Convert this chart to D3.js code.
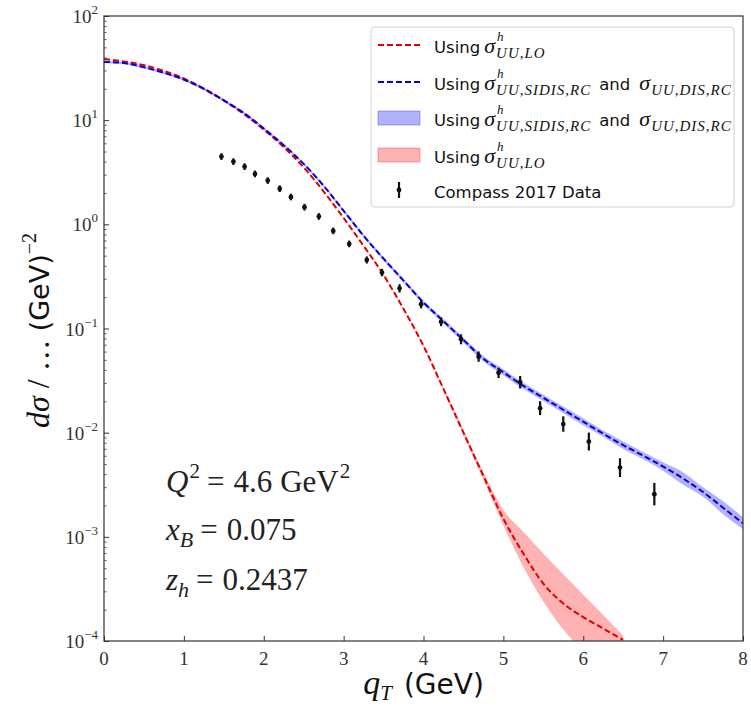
<!DOCTYPE html>
<html><head><meta charset="utf-8">
<script src="https://cdn.jsdelivr.net/npm/d3@7"></script>
<style>html,body{margin:0;padding:0;background:#fff;} text{white-space:pre;}</style>
</head><body>
<svg id="chart" width="751" height="707"></svg>
<script>
// ---- data ----
const gridBlue = [0,0.25,0.5,0.75,1,1.25,1.5,1.75,2,2.25,2.5,2.75,3,3.25,3.5,3.75,4,4.25,4.5,4.75,5,5.25,5.5,5.75,6,6.25,6.5,6.75,7,7.25,7.5,7.75,8];
const blueLog = [1.559,1.548,1.508,1.455,1.39,1.30,1.19,1.07,0.92,0.76,0.58,0.37,0.13,-0.11,-0.33,-0.54,-0.75,-0.93,-1.11,-1.29,-1.42,-1.55,-1.665,-1.78,-1.895,-2.01,-2.12,-2.22,-2.325,-2.44,-2.57,-2.72,-2.87];
const blueBandHalf = [0.012,0.012,0.012,0.012,0.012,0.012,0.012,0.012,0.012,0.012,0.012,0.012,0.014,0.015,0.016,0.018,0.02,0.022,0.024,0.026,0.028,0.03,0.03,0.032,0.034,0.03,0.036,0.034,0.04,0.06,0.045,0.062,0.058];

const gridRed = [0,0.5,1,1.5,2,2.5,3,3.25,3.5,3.75,4,4.25,4.5,4.75,5,5.25,5.5,5.75,6,6.25,6.5];
const redLog = [1.587,1.528,1.40,1.19,0.91,0.546,0.061,-0.207,-0.486,-0.812,-1.167,-1.58,-2.0,-2.415,-2.827,-3.16,-3.45,-3.64,-3.77,-3.88,-3.99];
const redBandHi = [1.59,1.53,1.402,1.192,0.912,0.548,0.063,-0.204,-0.482,-0.806,-1.158,-1.565,-1.975,-2.38,-2.74,-2.95,-3.16,-3.36,-3.555,-3.75,-3.95];
const redBandLo = [1.584,1.526,1.398,1.188,0.908,0.544,0.059,-0.21,-0.49,-0.818,-1.176,-1.595,-2.025,-2.45,-2.89,-3.29,-3.62,-3.89,-4.1,-4.3,-4.5];

const dataQ = [1.47,1.62,1.76,1.89,2.05,2.20,2.34,2.51,2.69,2.87,3.07,3.29,3.48,3.70,3.97,4.22,4.47,4.69,4.94,5.21,5.46,5.75,6.07,6.46,6.89];
const dataY = [4.47,4.0,3.58,3.05,2.63,2.20,1.83,1.46,1.19,0.865,0.649,0.455,0.344,0.243,0.171,0.116,0.0788,0.0537,0.0375,0.0305,0.0172,0.0121,0.00822,0.00462,0.00257];
const dataErrDex = [0.032,0.032,0.032,0.032,0.032,0.032,0.032,0.032,0.032,0.032,0.032,0.034,0.036,0.04,0.04,0.042,0.048,0.05,0.05,0.06,0.067,0.074,0.086,0.09,0.108];

const xTicks = [0,1,2,3,4,5,6,7,8];
const yTickExps = [-4,-3,-2,-1,0,1,2];

// ---- layout ----
const svg = d3.select("#chart");
const L = 104, R = 743, T = 16, B = 641;
const x = d3.scaleLinear().domain([0,8]).range([L,R]);
const y = d3.scaleLog().domain([1e-4,1e2]).range([B,T]);
const serif = "'Liberation Serif','DejaVu Serif',serif";
const sans = "'DejaVu Sans','Noto Sans',sans-serif";

svg.append("defs").append("clipPath").attr("id","clip")
  .append("rect").attr("x",L).attr("y",T).attr("width",R-L).attr("height",B-T);
const plot = svg.append("g").attr("clip-path","url(#clip)");

const P = (q,l) => [x(q), y(Math.pow(10,l))];

// bands
const area = d3.area().x(d=>d[0]).y0(d=>d[1]).y1(d=>d[2]).curve(d3.curveMonotoneX);
plot.append("path")
  .attr("d", area(gridRed.map((q,i)=>[x(q), y(Math.pow(10,redBandLo[i])), y(Math.pow(10,redBandHi[i]))])))
  .attr("fill","#ff0000").attr("fill-opacity",0.3).attr("stroke","none");
plot.append("path")
  .attr("d", area(gridBlue.map((q,i)=>[x(q), y(Math.pow(10,blueLog[i]-blueBandHalf[i])), y(Math.pow(10,blueLog[i]+blueBandHalf[i]))])))
  .attr("fill","#0000ff").attr("fill-opacity",0.3).attr("stroke","none");

const line = d3.line().curve(d3.curveMonotoneX);
plot.append("path").attr("d", line(gridRed.map((q,i)=>P(q,redLog[i]))))
  .attr("fill","none").attr("stroke","#e00000").attr("stroke-width",2).attr("stroke-dasharray","6,3");
plot.append("path").attr("d", line(gridBlue.map((q,i)=>P(q,blueLog[i]))))
  .attr("fill","none").attr("stroke","#0000e0").attr("stroke-width",2).attr("stroke-dasharray","6,3");

// data points
const pts = plot.append("g");
dataQ.forEach((q,i)=>{
  const v = dataY[i], e = dataErrDex[i];
  pts.append("line").attr("x1",x(q)).attr("x2",x(q))
    .attr("y1",y(v*Math.pow(10,e))).attr("y2",y(v/Math.pow(10,e)))
    .attr("stroke","#111").attr("stroke-width",2.2);
  pts.append("circle").attr("cx",x(q)).attr("cy",y(v)).attr("r",2.4).attr("fill","#111");
});

// frame
svg.append("rect").attr("x",L).attr("y",T).attr("width",R-L).attr("height",B-T)
  .attr("fill","none").attr("stroke","#333").attr("stroke-width",1.2);

// x axis
const xa = svg.append("g").attr("transform",`translate(0,${B})`)
  .call(d3.axisBottom(x).tickValues(xTicks).tickSize(-5).tickFormat(""));
xa.select(".domain").remove();
xa.selectAll(".tick line").attr("stroke","#333");
xTicks.forEach(t=>{
  svg.append("text").attr("x",x(t)).attr("y",B+24).attr("text-anchor","middle")
    .attr("font-family",serif).attr("font-size",19).attr("fill","#333").text(t);
});

// y axis
const majors = yTickExps.map(e=>Math.pow(10,e));
const minors = [];
for (let e=-4;e<2;e++) for (let m=2;m<=9;m++) minors.push(m*Math.pow(10,e));
const ya = svg.append("g").attr("transform",`translate(${L},0)`)
  .call(d3.axisLeft(y).tickValues(majors).tickSize(-5).tickFormat(""));
ya.select(".domain").remove();
ya.selectAll(".tick line").attr("stroke","#333");
const ym = svg.append("g").attr("transform",`translate(${L},0)`)
  .call(d3.axisLeft(y).tickValues(minors).tickSize(-2.5).tickFormat(""));
ym.select(".domain").remove();
ym.selectAll(".tick line").attr("stroke","#555");
yTickExps.forEach(e=>{
  const t = svg.append("text").attr("x",L-6).attr("y",y(Math.pow(10,e))+7).attr("text-anchor","end")
    .attr("font-family",serif).attr("fill","#333");
  t.append("tspan").attr("font-size",19).text("10");
  t.append("tspan").attr("font-size",13).attr("dy",-9).text(e<0?"\u2212"+(-e):String(e));
});

// axis labels
const yl = svg.append("text").attr("transform",`translate(49,${(T+B)/2+2}) rotate(-90)`)
  .attr("text-anchor","middle").attr("fill","#111");
yl.append("tspan").attr("font-family",serif).attr("font-style","italic").attr("font-size",32).text("dσ");
yl.append("tspan").attr("font-family",serif).attr("font-size",32).text(" / … ");
yl.append("tspan").attr("font-family",sans).attr("font-size",27).text("(GeV)");
yl.append("tspan").attr("font-family",serif).attr("font-size",20).attr("dy",-13).text("\u22122");

const xl = svg.append("text").attr("x",(L+R)/2).attr("y",694).attr("text-anchor","middle").attr("fill","#111");
xl.append("tspan").attr("font-family",serif).attr("font-style","italic").attr("font-size",34).text("q");
xl.append("tspan").attr("font-family",serif).attr("font-style","italic").attr("font-size",21).attr("dy",6).text("T");
xl.append("tspan").attr("font-family",sans).attr("font-size",28).attr("dy",-6).attr("dx",12).text("(GeV)");

// annotations
function mathLine(xp, yp, parts){
  const t = svg.append("text").attr("x",xp).attr("y",yp).attr("font-family",serif).attr("fill","#222");
  parts.forEach(p=>{
    const s = t.append("tspan").text(p.t).attr("font-size",p.fs||31);
    if (p.it) s.attr("font-style","italic");
    if (p.dy) s.attr("dy",p.dy);
    if (p.dx) s.attr("dx",p.dx);
  });
}
mathLine(166,492,[{t:"Q",it:1},{t:"2",fs:21,dy:-14,dx:1},{t:"=",dy:14,dx:7},{t:"4.6",dx:9},{t:"GeV",dx:8},{t:"2",fs:21,dy:-14,dx:1}]);
mathLine(166,540,[{t:"x",it:1},{t:"B",it:1,fs:22,dy:7},{t:"=",dy:-7,dx:7},{t:"0.075",dx:9}]);
mathLine(166,590,[{t:"z",it:1},{t:"h",it:1,fs:22,dy:7},{t:"=",dy:-7,dx:7},{t:"0.2437",dx:9}]);

// legend
const lg = svg.append("g");
lg.append("rect").attr("x",371).attr("y",27).attr("width",363).attr("height",180).attr("rx",4)
  .attr("fill","#fff").attr("fill-opacity",0.85).attr("stroke","#d0d0d0").attr("stroke-width",1);
const rowsY = [45,82,118,155,190];
function legendText(xp, yp, parts){
  let cx = xp;
  parts.forEach(p=>{
    if (p.kind==="sans"){
      cx += (p.pre||0);
      const t = lg.append("text").attr("x",cx).attr("y",yp).attr("font-family",sans).attr("font-size",16.5).attr("fill","#111").text(p.t);
      cx += t.node().getComputedTextLength() + (p.post||0);
    } else if (p.kind==="sig"){
      const t = lg.append("text").attr("x",cx).attr("y",yp).attr("font-family",serif).attr("font-style","italic").attr("font-size",22).attr("fill","#111").text("σ");
      cx += t.node().getComputedTextLength()+1;
      let w = 0;
      if (p.sup){
        const s = lg.append("text").attr("x",cx+1).attr("y",yp-12).attr("font-family",serif).attr("font-style","italic").attr("font-size",13).attr("fill","#111").text(p.sup);
        w = Math.max(w, s.node().getComputedTextLength()+1);
      }
      const b = lg.append("text").attr("x",cx).attr("y",yp+5).attr("font-family",serif).attr("font-style","italic").attr("font-size",15).attr("letter-spacing",1).attr("fill","#111").text(p.sub);
      w = Math.max(w, b.node().getComputedTextLength());
      cx += w;
    }
  });
}
const baseOff = 8;
lg.append("line").attr("x1",378).attr("x2",420).attr("y1",rowsY[0]).attr("y2",rowsY[0])
  .attr("stroke","#e00000").attr("stroke-width",2).attr("stroke-dasharray","6,3");
legendText(434,rowsY[0]+baseOff,[{kind:"sans",t:"Using",post:4},{kind:"sig",sup:"h",sub:"UU,LO"}]);
lg.append("line").attr("x1",378).attr("x2",420).attr("y1",rowsY[1]).attr("y2",rowsY[1])
  .attr("stroke","#0000e0").attr("stroke-width",2).attr("stroke-dasharray","6,3");
legendText(434,rowsY[1]+baseOff,[{kind:"sans",t:"Using",post:4},{kind:"sig",sup:"h",sub:"UU,SIDIS,RC"},{kind:"sans",pre:8,t:"and",post:9},{kind:"sig",sub:"UU,DIS,RC"}]);
lg.append("rect").attr("x",378).attr("y",rowsY[2]-7).attr("width",42).attr("height",14)
  .attr("fill","#0000ff").attr("fill-opacity",0.3).attr("stroke","#0000ff").attr("stroke-opacity",0.3);
legendText(434,rowsY[2]+baseOff,[{kind:"sans",t:"Using",post:4},{kind:"sig",sup:"h",sub:"UU,SIDIS,RC"},{kind:"sans",pre:8,t:"and",post:9},{kind:"sig",sub:"UU,DIS,RC"}]);
lg.append("rect").attr("x",378).attr("y",rowsY[3]-7).attr("width",42).attr("height",14)
  .attr("fill","#ff0000").attr("fill-opacity",0.3).attr("stroke","#ff0000").attr("stroke-opacity",0.3);
legendText(434,rowsY[3]+baseOff,[{kind:"sans",t:"Using",post:4},{kind:"sig",sup:"h",sub:"UU,LO"}]);
lg.append("line").attr("x1",399).attr("x2",399).attr("y1",rowsY[4]-8).attr("y2",rowsY[4]+8)
  .attr("stroke","#111").attr("stroke-width",2.2);
lg.append("circle").attr("cx",399).attr("cy",rowsY[4]).attr("r",2.4).attr("fill","#111");
legendText(434,rowsY[4]+baseOff,[{kind:"sans",t:"Compass 2017 Data"}]);
</script>
</body></html>
